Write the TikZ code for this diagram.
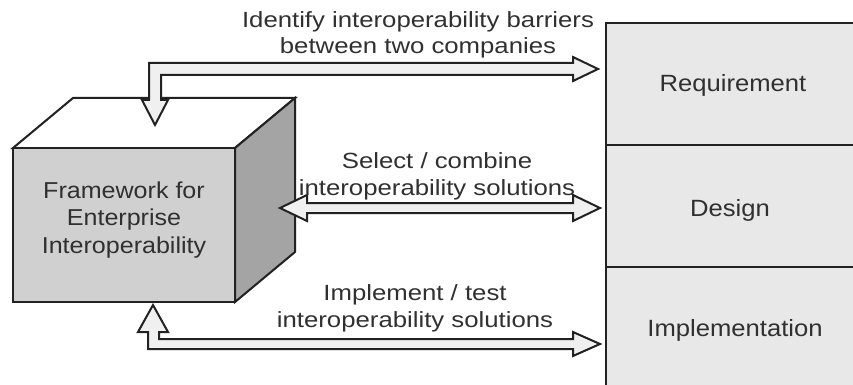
\documentclass[tikz,border=0pt]{standalone}
\usepackage{fontspec}
\setmainfont{Liberation Sans}
\newfontfamily\annfont[FakeStretch=1.17]{Liberation Sans}
\newfontfamily\lblfont[FakeStretch=1.09]{Liberation Sans}
\usetikzlibrary{calc}
\definecolor{boxgray}{HTML}{E8E8E8}
\definecolor{frontgray}{HTML}{D0D0D0}
\definecolor{sidegray}{HTML}{A4A4A4}
\definecolor{inkgray}{HTML}{222222}
\definecolor{txtgray}{HTML}{303030}
\definecolor{arrowfill}{HTML}{F0F0F0}
\tikzset{
  phasebox/.style={draw=inkgray, line width=2pt, fill=boxgray, minimum width=260pt, minimum height=122pt, inner sep=0pt, anchor=north west, text=txtgray, font=\lblfont\fontsize{23.5}{27}\selectfont},
  cubeface/.style={draw=inkgray, line width=2pt, line join=miter},
  hollowarrow/.style={draw=inkgray, line width=2pt, fill=arrowfill, line join=miter},
  annot/.style={align=center, text=txtgray, inner sep=0pt, font=\annfont\fontsize{22}{26.5}\selectfont},
  cubelabel/.style={align=center, text=txtgray, inner sep=0pt, font=\lblfont\fontsize{23}{27.5}\selectfont}
}
\begin{document}
\begin{tikzpicture}[x=1pt, y=-1pt]
\useasboundingbox (0,0) rectangle (853,385);
\clip (0,0) rectangle (853,385);
% phase boxes
\node[phasebox] (req) at (605,22) {};
\node[phasebox] (des) at (605,144) {};
\node[phasebox] (imp) at (605,266) {};
\node[text=txtgray, font=\lblfont\fontsize{23.5}{27}\selectfont] (reqt) at (733,85) {Requirement};
\node[text=txtgray, font=\lblfont\fontsize{23.5}{27}\selectfont] (dest) at (730,210) {Design};
\node[text=txtgray, font=\lblfont\fontsize{23.5}{27}\selectfont] (impt) at (735,330) {Implementation};
% cube
\coordinate (fl) at (13,148);
\coordinate (fr) at (235,148);
\coordinate (br) at (235,302);
\coordinate (bl) at (13,302);
\coordinate (tl) at (73,98);
\coordinate (tr) at (295,98);
\coordinate (sr) at (295,252);
\fill[white] (fl) -- (tl) -- (tr) -- (fr) -- cycle;
\draw[cubeface] (fl) -- (tl) -- (tr) -- (fr) -- cycle;
\draw[cubeface, fill=sidegray] (fr) -- (tr) -- (sr) -- (br) -- cycle;
\draw[cubeface, fill=frontgray] (fl) rectangle (br);
\node[cubelabel] (fw) at (124,220) {Framework for\\Enterprise\\Interoperability};
% arrows
\draw[hollowarrow] (149,100) -- (149,63) -- (573,63) -- (573,57) -- (598,69) -- (573,81) -- (573,75) -- (161,75) -- (161,100) -- (168,100) -- (155,125) -- (142,100) -- cycle;
\draw[hollowarrow] (280,208) -- (307,195) -- (307,203) -- (573,203) -- (573,195) -- (600,208) -- (573,221) -- (573,213) -- (307,213) -- (307,221) -- cycle;
\draw[hollowarrow] (153,305) -- (168,332) -- (159,332) -- (159,339) -- (573,339) -- (573,332) -- (600,344) -- (573,356) -- (573,349) -- (148,349) -- (148,332) -- (138,332) -- cycle;
% annotations
\node[annot] (a1) at (418,35) {Identify interoperability barriers\\between two companies};
\node[annot] (a2) at (437,176.5) {Select / combine\\interoperability solutions};
\node[annot] (a3) at (415,308.5) {Implement / test\\interoperability solutions};
\end{tikzpicture}
\end{document}
